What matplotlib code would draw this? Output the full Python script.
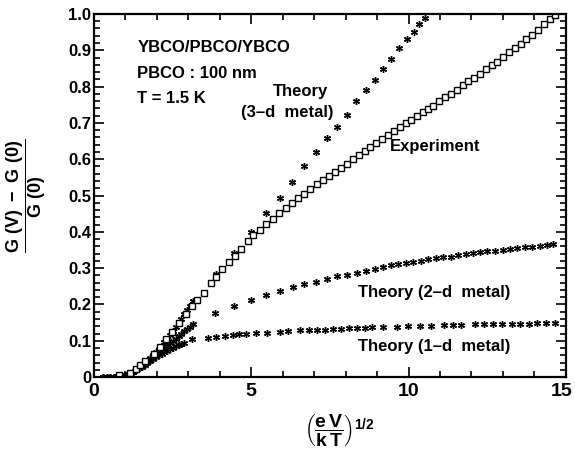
import matplotlib
matplotlib.use('Agg')
import matplotlib.pyplot as plt
import matplotlib.transforms as mtransforms
from matplotlib.ticker import MultipleLocator

plt.rcParams['font.family'] = 'Liberation Sans'
plt.rcParams['font.weight'] = 'bold'
plt.rcParams['mathtext.fontset'] = 'custom'
plt.rcParams['mathtext.rm'] = 'Liberation Sans:bold'
plt.rcParams['mathtext.it'] = 'Liberation Sans:bold'
plt.rcParams['mathtext.bf'] = 'Liberation Sans:bold'

# experiment (open squares)
exp_x = [0.78, 1.13, 1.32, 1.46, 1.62, 1.90, 2.09, 2.30, 2.48, 2.69, 2.94, 3.10, 3.28, 3.51,
         3.73, 3.89, 4.08, 4.30, 4.49, 4.68, 4.90, 5.06, 5.29, 5.48, 5.70, 5.89, 6.11, 6.30,
         6.49, 6.68, 6.87, 7.10, 7.29, 7.47, 7.66, 7.85, 8.03, 8.22, 8.41, 8.60, 8.78, 8.97,
         9.16, 9.34, 9.53, 9.72, 9.91, 10.09, 10.28, 10.47, 10.63, 10.78, 10.97, 11.16, 11.34,
         11.53, 11.72, 11.90, 12.08, 12.27, 12.46, 12.64, 12.81, 13.00, 13.19, 13.38, 13.56,
         13.75, 13.93, 14.12, 14.30, 14.49, 14.67]
exp_y = [0.005, 0.012, 0.021, 0.033, 0.044, 0.063, 0.083, 0.104, 0.125, 0.148, 0.175, 0.196,
         0.212, 0.232, 0.259, 0.276, 0.298, 0.317, 0.334, 0.353, 0.375, 0.392, 0.405, 0.422,
         0.436, 0.452, 0.466, 0.480, 0.494, 0.505, 0.518, 0.532, 0.543, 0.554, 0.566, 0.577,
         0.588, 0.600, 0.611, 0.623, 0.634, 0.645, 0.656, 0.667, 0.678, 0.688, 0.699, 0.709,
         0.719, 0.729, 0.738, 0.747, 0.759, 0.770, 0.780, 0.791, 0.803, 0.814, 0.824, 0.836,
         0.848, 0.860, 0.869, 0.882, 0.894, 0.906, 0.918, 0.931, 0.943, 0.957, 0.971, 0.985,
         0.998]

# theory curves (asterisks)
th3_x = [0.30, 0.42, 0.52, 0.62, 0.71, 0.80, 0.89, 0.98, 1.07, 1.16, 1.25, 1.34, 1.43, 1.52,
         1.61, 1.70, 1.79, 1.88, 1.97, 2.06, 2.15, 2.24, 2.33, 2.42, 2.51, 2.60, 2.69, 2.78,
         2.87, 2.96, 3.05, 3.16, 3.87, 4.44, 4.98, 5.48, 5.90, 6.29, 6.69, 7.06, 7.40, 7.72,
         8.04, 8.33, 8.64, 8.92, 9.18, 9.44, 9.71, 9.96, 10.17, 10.34, 10.51]
th3_y = [0.0, 0.0, 0.0, 0.0, 0.001, 0.002, 0.003, 0.005, 0.008, 0.011, 0.015, 0.019, 0.024,
         0.030, 0.037, 0.044, 0.052, 0.060, 0.068, 0.077, 0.086, 0.096, 0.106, 0.116, 0.127,
         0.138, 0.149, 0.161, 0.173, 0.185, 0.197, 0.210, 0.283, 0.343, 0.400, 0.451, 0.494,
         0.537, 0.580, 0.619, 0.658, 0.690, 0.723, 0.759, 0.790, 0.819, 0.849, 0.876, 0.905,
         0.932, 0.951, 0.973, 0.988]

th2_x = [0.30, 0.42, 0.52, 0.62, 0.71, 0.80, 0.89, 0.98, 1.07, 1.16, 1.25, 1.34, 1.43, 1.52,
         1.61, 1.70, 1.79, 1.88, 1.97, 2.06, 2.15, 2.24, 2.33, 2.42, 2.51, 2.60, 2.69, 2.78,
         2.87, 2.96, 3.05, 3.16, 3.86, 4.46, 4.99, 5.48, 5.92, 6.32, 6.69, 7.06, 7.40, 7.72,
         8.04, 8.36, 8.65, 8.92, 9.20, 9.43, 9.68, 9.92, 10.15, 10.39, 10.63, 10.86, 11.10,
         11.34, 11.58, 11.82, 12.06, 12.27, 12.50, 12.75, 12.99, 13.22, 13.45, 13.70, 13.94,
         14.17, 14.39, 14.60]
th2_y = [0.0, 0.0, 0.0, 0.0, 0.001, 0.002, 0.003, 0.005, 0.008, 0.011, 0.015, 0.019, 0.024,
         0.030, 0.036, 0.042, 0.048, 0.054, 0.061, 0.067, 0.074, 0.080, 0.087, 0.093, 0.100,
         0.106, 0.113, 0.119, 0.126, 0.132, 0.139, 0.147, 0.176, 0.197, 0.212, 0.227, 0.237,
         0.247, 0.256, 0.263, 0.270, 0.278, 0.282, 0.288, 0.292, 0.297, 0.304, 0.309, 0.312,
         0.315, 0.318, 0.321, 0.325, 0.327, 0.330, 0.332, 0.335, 0.338, 0.341, 0.344, 0.346,
         0.348, 0.350, 0.353, 0.355, 0.358, 0.359, 0.362, 0.364, 0.367]

th1_x = [0.30, 0.42, 0.52, 0.62, 0.71, 0.80, 0.89, 0.98, 1.07, 1.16, 1.25, 1.34, 1.43, 1.52,
         1.61, 1.70, 1.79, 1.88, 1.97, 2.06, 2.15, 2.24, 2.33, 2.42, 2.51, 2.60, 2.69, 2.78,
         2.87, 3.12, 3.62, 3.89, 4.17, 4.41, 4.62, 4.83, 5.16, 5.50, 5.90, 6.18, 6.56, 6.83,
         7.08, 7.34, 7.60, 7.85, 8.10, 8.35, 8.60, 8.85, 9.20, 9.62, 9.99, 10.38, 10.73, 11.13,
         11.40, 11.66, 12.10, 12.40, 12.70, 12.98, 13.30, 13.55, 13.82, 14.10, 14.37, 14.66]
th1_y = [0.0, 0.0, 0.0, 0.0, 0.001, 0.002, 0.003, 0.005, 0.008, 0.011, 0.015, 0.019, 0.024,
         0.029, 0.034, 0.039, 0.045, 0.050, 0.055, 0.060, 0.064, 0.069, 0.073, 0.077, 0.081,
         0.085, 0.089, 0.092, 0.095, 0.104, 0.107, 0.111, 0.114, 0.116, 0.118, 0.119, 0.121,
         0.122, 0.125, 0.127, 0.129, 0.130, 0.131, 0.131, 0.132, 0.133, 0.134, 0.135, 0.136,
         0.137, 0.138, 0.139, 0.140, 0.141, 0.142, 0.143, 0.143, 0.144, 0.145, 0.145, 0.146,
         0.146, 0.147, 0.147, 0.147, 0.148, 0.148, 0.149]

fig = plt.figure(figsize=(5.75, 4.5), dpi=100)
ax = fig.add_axes([0.1635, 0.162, 0.8205, 0.807])

star = (6, 2, 0)
for tx, ty in [(th1_x, th1_y), (th2_x, th2_y), (th3_x, th3_y)]:
    ax.plot(tx, ty, linestyle='none', marker=star, markersize=5, markeredgewidth=1.0,
            color='black')
ax.plot(exp_x, exp_y, linestyle='none', marker='s', markersize=4.8, markeredgewidth=1.0,
        markerfacecolor='white', markeredgecolor='black')

ax.set_xlim(0, 15)
ax.set_ylim(0, 1.0)
ax.xaxis.set_major_locator(MultipleLocator(5))
ax.xaxis.set_minor_locator(MultipleLocator(1))
ax.yaxis.set_major_locator(MultipleLocator(0.1))
ax.yaxis.set_minor_locator(MultipleLocator(0.02))
ax.tick_params(which='both', direction='in', top=True, right=True, width=1.2)
ax.tick_params(which='major', length=7)
ax.tick_params(which='minor', length=4)
ax.tick_params(axis='x', labelsize=14, pad=4)
ax.tick_params(axis='y', labelsize=12, pad=2)
for sp in ax.spines.values():
    sp.set_linewidth(1.6)

ax.set_yticks([0, 0.1, 0.2, 0.3, 0.4, 0.5, 0.6, 0.7, 0.8, 0.9, 1.0])
ax.set_yticklabels(['0', '0.1', '0.2', '0.3', '0.4', '0.5', '0.6', '0.7', '0.8', '0.9', '1.0'])

ax.set_ylabel(r'$\dfrac{\mathrm{G\ (V)\ -\ G\ (0)}}{\mathrm{G\ (0)}}$', fontsize=13)
ax.yaxis.set_label_coords(-0.097, 0.5)
ax.set_xlabel(r'$\left(\dfrac{\mathrm{e\,V}}{\mathrm{k\,T}}\right)^{\mathrm{1/2}}$', fontsize=14)
ax.xaxis.set_label_coords(0.52, -0.1)

fs = 12
ax.text(1.38, 0.907, 'YBCO/PBCO/YBCO', fontsize=fs, fontweight='bold', va='center')
ax.text(1.38, 0.835, 'PBCO : 100 nm', fontsize=fs, fontweight='bold', va='center')
ax.text(1.38, 0.766, 'T = 1.5 K', fontsize=fs, fontweight='bold', va='center')
ax.text(7.45, 0.786, 'Theory', fontsize=fs, fontweight='bold', va='center', ha='right')
ax.text(7.6, 0.728, '(3\u2013d  metal)', fontsize=fs, fontweight='bold', va='center', ha='right')
ax.text(9.41, 0.634, 'Experiment', fontsize=fs, fontweight='bold', va='center')
ax.text(8.4, 0.234, 'Theory (2\u2013d  metal)', fontsize=fs, fontweight='bold', va='center')
ax.text(8.4, 0.083, 'Theory (1\u2013d  metal)', fontsize=fs, fontweight='bold', va='center')

# nudge the "15" tick label a few pixels left so it stays inside the figure
fig.canvas.draw()
for lab in ax.get_xticklabels():
    if lab.get_text() == '15':
        lab.set_transform(lab.get_transform() +
                          mtransforms.ScaledTranslation(-4 / 100, 0, fig.dpi_scale_trans))

fig.savefig('out.png', dpi=100)
